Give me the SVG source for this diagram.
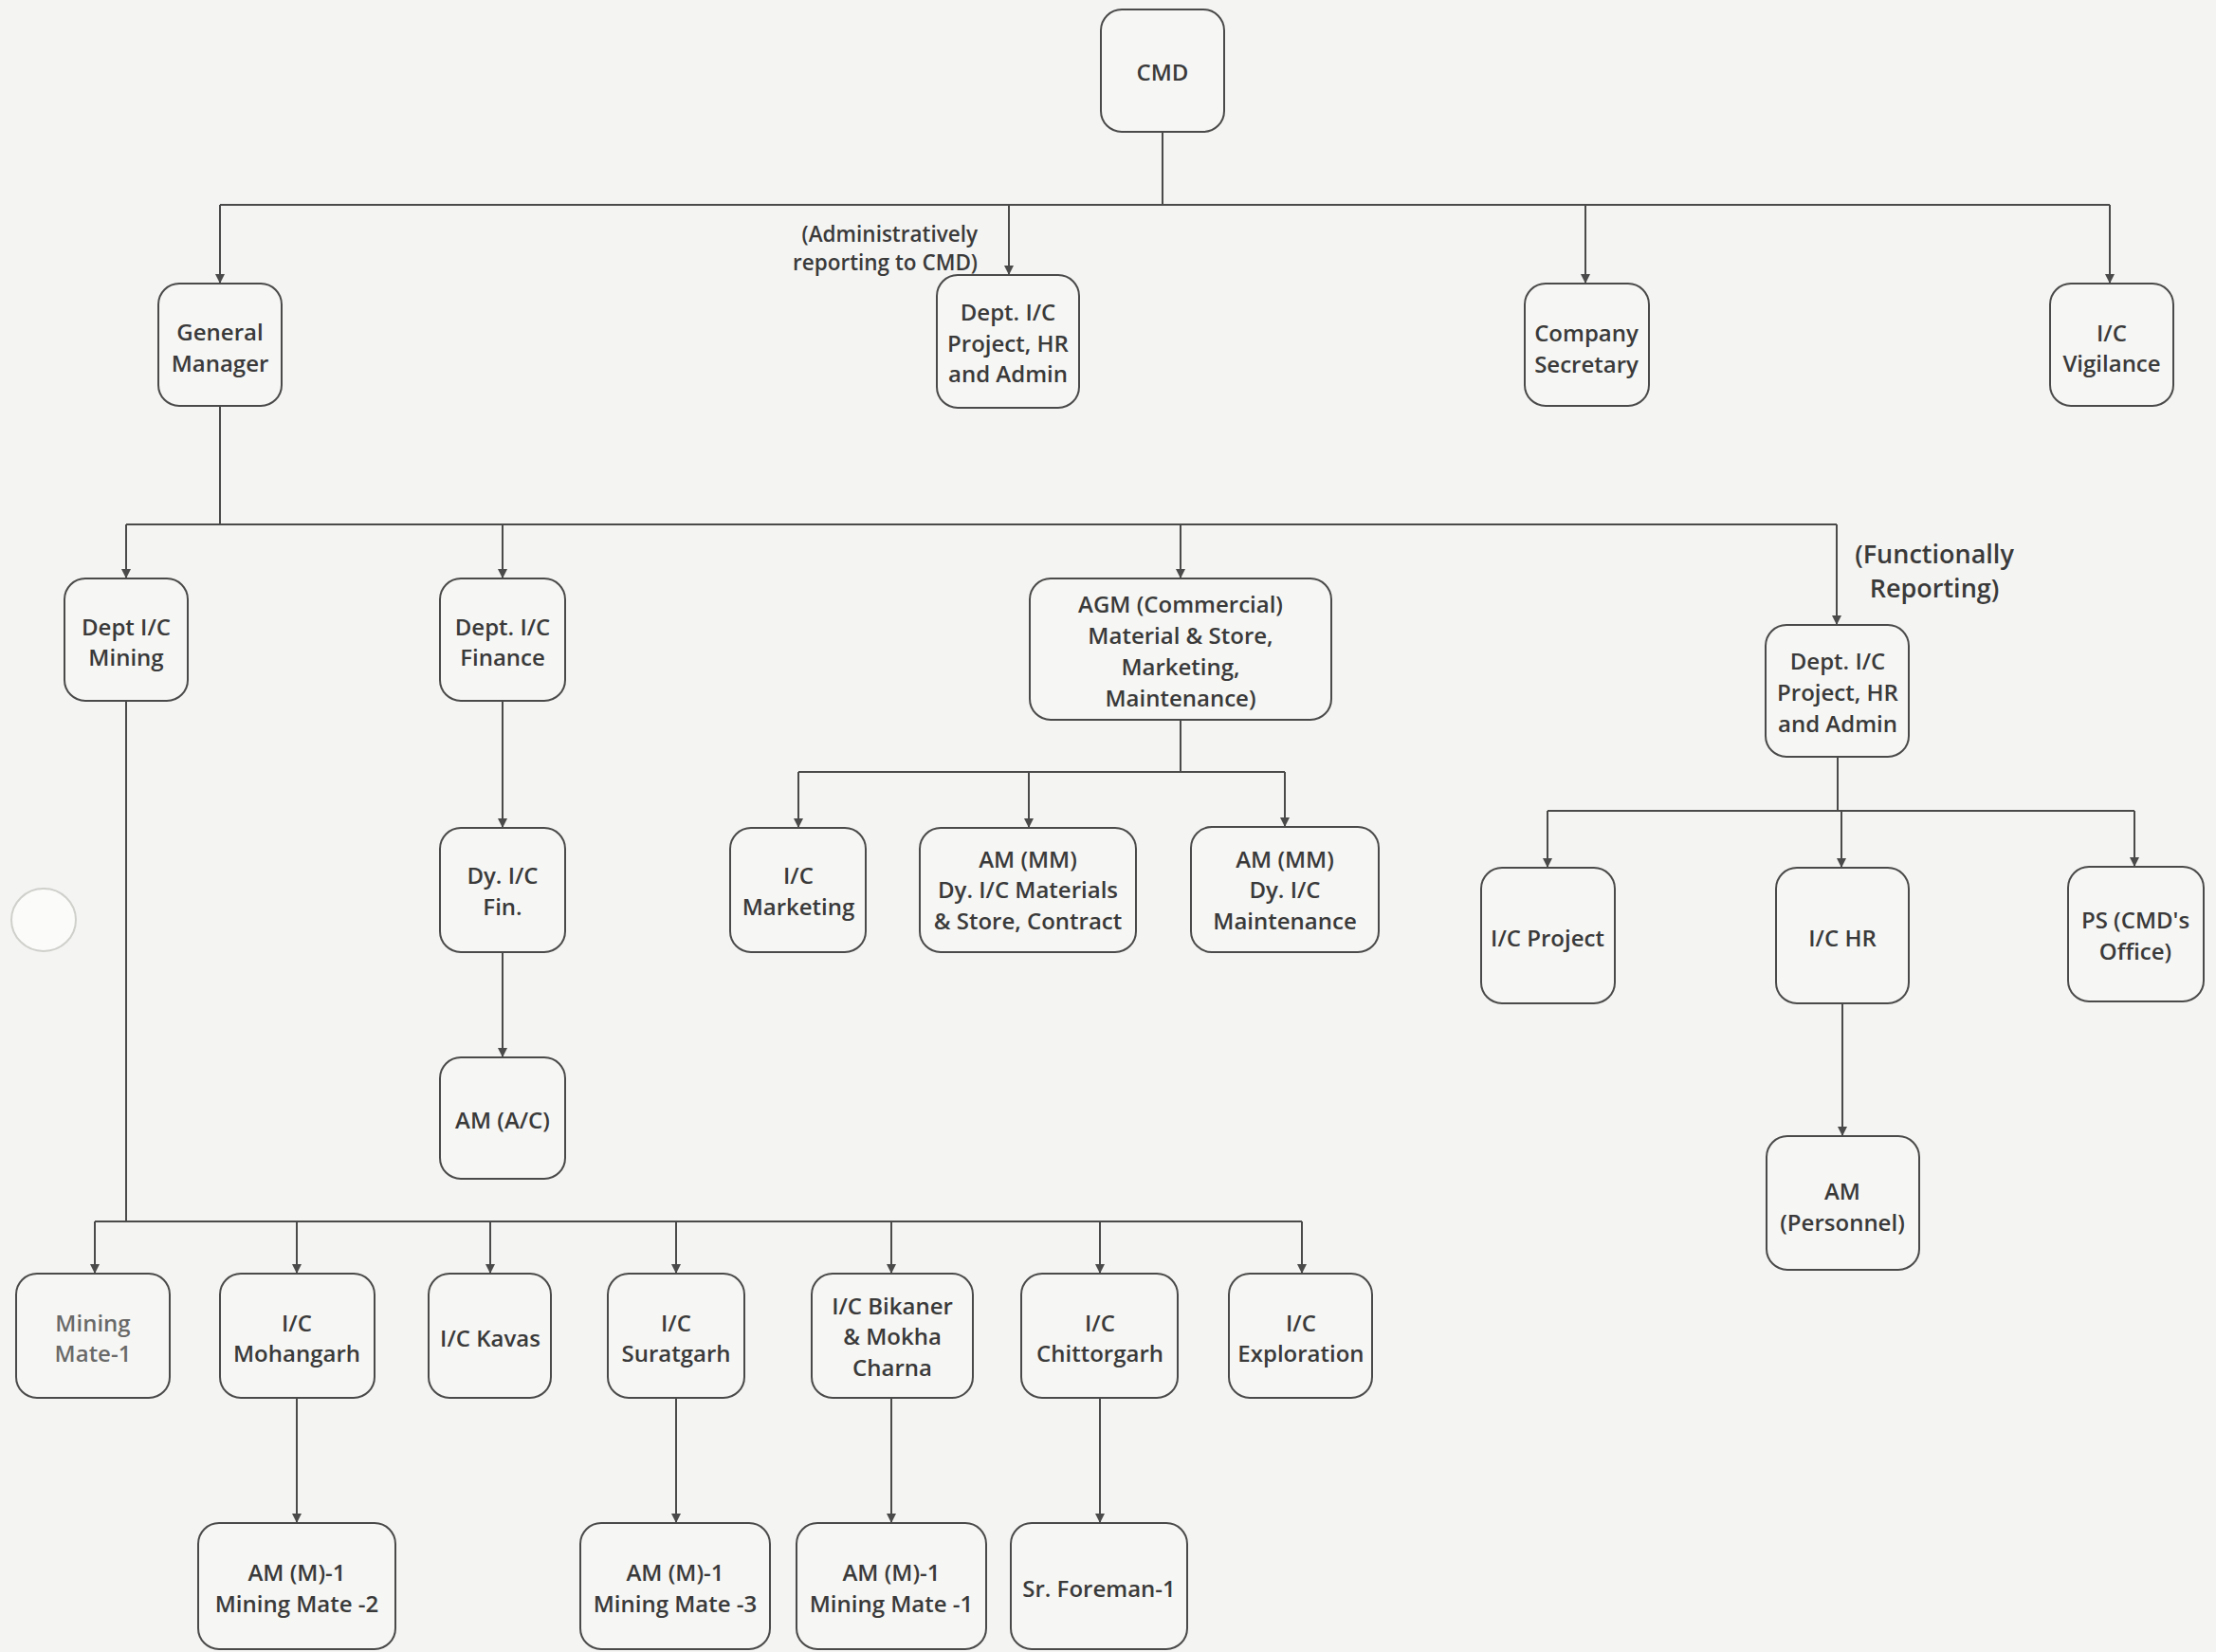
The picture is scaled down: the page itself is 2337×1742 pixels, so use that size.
<svg xmlns="http://www.w3.org/2000/svg" width="2337" height="1742" viewBox="0 0 2337 1742">
<defs>
<marker id="arr" viewBox="0 0 10 10" refX="10" refY="5" markerWidth="10" markerHeight="10" markerUnits="userSpaceOnUse" orient="auto">
<path d="M0,0 L10,5 L0,10 z" fill="#4a4a4a"/>
</marker>
<style>
.box{fill:#f6f6f4;stroke:#4a4a4a;stroke-width:2}
.t{font-family:"Open Sans","Noto Sans","Liberation Sans",sans-serif;font-weight:600;font-size:24px;fill:#3a3a3a;text-anchor:middle;dominant-baseline:central}
.lbl{font-family:"Open Sans","Noto Sans","Liberation Sans",sans-serif;font-weight:600;fill:#3a3a3a;dominant-baseline:central}
.c{fill:none;stroke:#4a4a4a;stroke-width:2}
.a{fill:none;stroke:#4a4a4a;stroke-width:2;marker-end:url(#arr)}
</style>
</defs>
<rect width="2337" height="1742" fill="#f4f4f2"/>
<ellipse cx="46" cy="970" rx="34" ry="33" fill="#fbfbf9" stroke="#cfcfcc" stroke-width="2"/>

<g id="connectors">
<path class="c" d="M1226,139 V216 M232,216 H2225"/>
<path class="a" d="M232,216 V299"/>
<path class="a" d="M1064,216 V290"/>
<path class="a" d="M1672,216 V299"/>
<path class="a" d="M2225,216 V299"/>
<path class="c" d="M232,428 V553 M133,553 H1937"/>
<path class="a" d="M133,553 V610"/>
<path class="a" d="M530,553 V610"/>
<path class="a" d="M1245,553 V610"/>
<path class="a" d="M1937,553 V659"/>
<path class="a" d="M530,739 V873"/>
<path class="a" d="M530,1004 V1115"/>
<path class="c" d="M1245,759 V814 M842,814 H1355"/>
<path class="a" d="M842,814 V873"/>
<path class="a" d="M1085,814 V873"/>
<path class="a" d="M1355,814 V872"/>
<path class="c" d="M1938,798 V855 M1632,855 H2251"/>
<path class="a" d="M1632,855 V915"/>
<path class="a" d="M1942,855 V915"/>
<path class="a" d="M2251,855 V914"/>
<path class="a" d="M1943,1058 V1198"/>
<path class="c" d="M133,739 V1288 M100,1288 H1373"/>
<path class="a" d="M100,1288 V1343"/>
<path class="a" d="M313,1288 V1343"/>
<path class="a" d="M517,1288 V1343"/>
<path class="a" d="M713,1288 V1343"/>
<path class="a" d="M940,1288 V1343"/>
<path class="a" d="M1160,1288 V1343"/>
<path class="a" d="M1373,1288 V1343"/>
<path class="a" d="M313,1474 V1606"/>
<path class="a" d="M713,1474 V1606"/>
<path class="a" d="M940,1474 V1606"/>
<path class="a" d="M1160,1474 V1606"/>
</g>

<g id="labels">
<text class="lbl" x="1031" y="246" font-size="22.5" text-anchor="end">(Administratively</text>
<text class="lbl" x="1031" y="276" font-size="22.5" text-anchor="end">reporting to CMD)</text>
<text class="lbl" x="2040" y="583" font-size="27" text-anchor="middle">(Functionally</text>
<text class="lbl" x="2040" y="619" font-size="27" text-anchor="middle">Reporting)</text>
</g>

<g id="n-cmd"><rect class="box" x="1161" y="10" width="130" height="129" rx="22"/><text class="t" x="1226" y="75">CMD</text></g>
<g id="n-gm"><rect class="box" x="167" y="299" width="130" height="129" rx="22"/><text class="t" x="232" y="349">General</text><text class="t" x="232" y="382">Manager</text></g>
<g id="n-dept-admin"><rect class="box" x="988" y="290" width="150" height="140" rx="22"/><text class="t" x="1063" y="328">Dept. I/C</text><text class="t" x="1063" y="361">Project, HR</text><text class="t" x="1063" y="393">and Admin</text></g>
<g id="n-cs"><rect class="box" x="1608" y="299" width="131" height="129" rx="22"/><text class="t" x="1673" y="350">Company</text><text class="t" x="1673" y="383">Secretary</text></g>
<g id="n-vig"><rect class="box" x="2162" y="299" width="130" height="129" rx="22"/><text class="t" x="2227" y="350">I/C</text><text class="t" x="2227" y="382">Vigilance</text></g>

<g id="n-mining"><rect class="box" x="68" y="610" width="130" height="129" rx="22"/><text class="t" x="133" y="660">Dept I/C</text><text class="t" x="133" y="692">Mining</text></g>
<g id="n-finance"><rect class="box" x="464" y="610" width="132" height="129" rx="22"/><text class="t" x="530" y="660">Dept. I/C</text><text class="t" x="530" y="692">Finance</text></g>
<g id="n-agm"><rect class="box" x="1086" y="610" width="318" height="149" rx="22"/><text class="t" x="1245" y="636">AGM (Commercial)</text><text class="t" x="1245" y="669">Material &amp; Store,</text><text class="t" x="1245" y="702">Marketing,</text><text class="t" x="1245" y="735">Maintenance)</text></g>
<g id="n-dept-func"><rect class="box" x="1862" y="659" width="151" height="139" rx="22"/><text class="t" x="1938" y="696">Dept. I/C</text><text class="t" x="1938" y="729">Project, HR</text><text class="t" x="1938" y="762">and Admin</text></g>

<g id="n-dyfin"><rect class="box" x="464" y="873" width="132" height="131" rx="22"/><text class="t" x="530" y="922">Dy. I/C</text><text class="t" x="530" y="955">Fin.</text></g>
<g id="n-amac"><rect class="box" x="464" y="1115" width="132" height="128" rx="22"/><text class="t" x="530" y="1180">AM (A/C)</text></g>
<g id="n-mkt"><rect class="box" x="770" y="873" width="143" height="131" rx="22"/><text class="t" x="842" y="922">I/C</text><text class="t" x="842" y="955">Marketing</text></g>
<g id="n-ammat"><rect class="box" x="970" y="873" width="228" height="131" rx="22"/><text class="t" x="1084" y="905">AM (MM)</text><text class="t" x="1084" y="937">Dy. I/C Materials</text><text class="t" x="1084" y="970">&amp; Store, Contract</text></g>
<g id="n-ammaint"><rect class="box" x="1256" y="872" width="198" height="132" rx="22"/><text class="t" x="1355" y="905">AM (MM)</text><text class="t" x="1355" y="937">Dy. I/C</text><text class="t" x="1355" y="970">Maintenance</text></g>

<g id="n-proj"><rect class="box" x="1562" y="915" width="141" height="143" rx="22"/><text class="t" x="1632" y="988">I/C Project</text></g>
<g id="n-hr"><rect class="box" x="1873" y="915" width="140" height="143" rx="22"/><text class="t" x="1943" y="988">I/C HR</text></g>
<g id="n-ps"><rect class="box" x="2181" y="914" width="143" height="142" rx="22"/><text class="t" x="2252" y="969">PS (CMD's</text><text class="t" x="2252" y="1002">Office)</text></g>
<g id="n-ampers"><rect class="box" x="1863" y="1198" width="161" height="141" rx="22"/><text class="t" x="1943" y="1255">AM</text><text class="t" x="1943" y="1288">(Personnel)</text></g>

<g id="n-mm1"><rect class="box" x="17" y="1343" width="162" height="131" rx="22"/><text class="t" x="98" y="1394" fill-opacity="0.75">Mining</text><text class="t" x="98" y="1426" fill-opacity="0.75">Mate-1</text></g>
<g id="n-moh"><rect class="box" x="232" y="1343" width="163" height="131" rx="22"/><text class="t" x="313" y="1394">I/C</text><text class="t" x="313" y="1426">Mohangarh</text></g>
<g id="n-kav"><rect class="box" x="452" y="1343" width="129" height="131" rx="22"/><text class="t" x="517" y="1410">I/C Kavas</text></g>
<g id="n-sur"><rect class="box" x="641" y="1343" width="144" height="131" rx="22"/><text class="t" x="713" y="1394">I/C</text><text class="t" x="713" y="1426">Suratgarh</text></g>
<g id="n-bik"><rect class="box" x="856" y="1343" width="170" height="131" rx="22"/><text class="t" x="941" y="1376">I/C Bikaner</text><text class="t" x="941" y="1408">&amp; Mokha</text><text class="t" x="941" y="1441">Charna</text></g>
<g id="n-chi"><rect class="box" x="1077" y="1343" width="165" height="131" rx="22"/><text class="t" x="1160" y="1394">I/C</text><text class="t" x="1160" y="1426">Chittorgarh</text></g>
<g id="n-exp"><rect class="box" x="1296" y="1343" width="151" height="131" rx="22"/><text class="t" x="1372" y="1394">I/C</text><text class="t" x="1372" y="1426">Exploration</text></g>

<g id="n-moh-sub"><rect class="box" x="209" y="1606" width="208" height="133" rx="22"/><text class="t" x="313" y="1657">AM (M)-1</text><text class="t" x="313" y="1690">Mining Mate -2</text></g>
<g id="n-sur-sub"><rect class="box" x="612" y="1606" width="200" height="133" rx="22"/><text class="t" x="712" y="1657">AM (M)-1</text><text class="t" x="712" y="1690">Mining Mate -3</text></g>
<g id="n-bik-sub"><rect class="box" x="840" y="1606" width="200" height="133" rx="22"/><text class="t" x="940" y="1657">AM (M)-1</text><text class="t" x="940" y="1690">Mining Mate -1</text></g>
<g id="n-chi-sub"><rect class="box" x="1066" y="1606" width="186" height="133" rx="22"/><text class="t" x="1159" y="1674">Sr. Foreman-1</text></g>
</svg>
